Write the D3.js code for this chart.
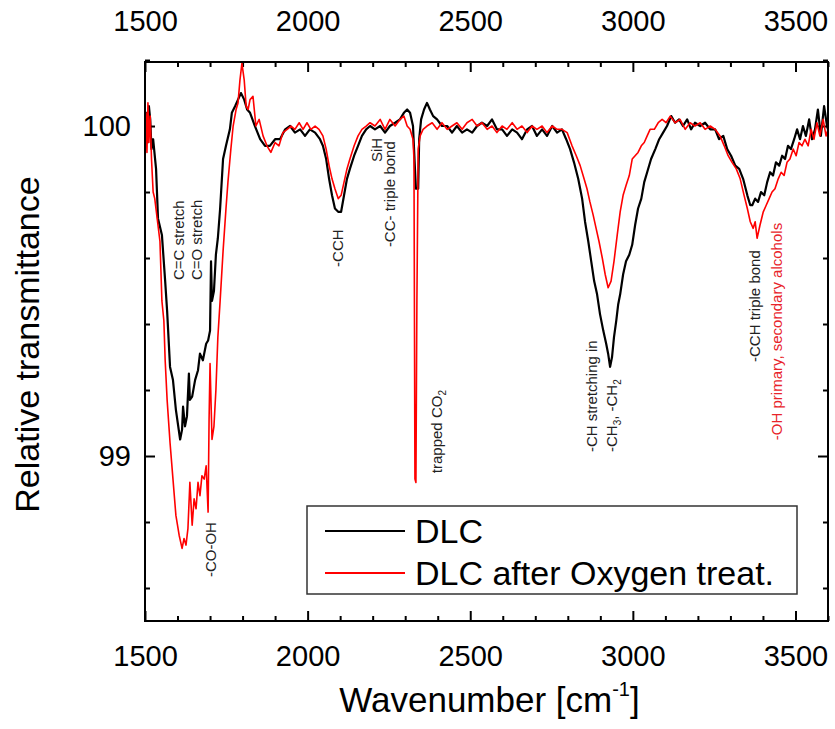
<!DOCTYPE html>
<html>
<head>
<meta charset="utf-8">
<script src="https://cdn.jsdelivr.net/npm/d3@7"></script>
<style>
	body { margin: 0; background: #fff; }
	text { font-family: "Liberation Sans", Arial, sans-serif; }
</style>
</head>
<body>
<svg id="chart" width="835" height="729"></svg>
<script>
"use strict";

// wavenumber [cm-1], relative transmittance
var dlcWn = [1500,1504,1508,1512,1516,1520,1525,1534,1540,1552,1562,1568,1577,1586,1595,1608,1614,1617,1623,1629,1635,1638,1645,1654,1663,1669,1678,1688,1694,1700,1703,1706,1712,1718,1724,1731,1740,1749,1761,1767,1777,1786,1795,1805,1814,1823,1838,1854,1869,1884,1900,1915,1931,1946,1961,1977,1992,2007,2023,2038,2047,2057,2066,2075,2084,2094,2103,2112,2121,2130,2143,2155,2167,2180,2192,2207,2223,2238,2253,2269,2284,2296,2306,2315,2324,2330,2333,2340,2343,2349,2358,2367,2376,2386,2398,2413,2429,2444,2459,2475,2490,2506,2521,2536,2552,2567,2582,2598,2613,2629,2644,2659,2675,2690,2705,2721,2736,2752,2767,2782,2795,2807,2819,2832,2844,2853,2863,2872,2881,2890,2899,2909,2918,2924,2930,2936,2942,2949,2955,2961,2970,2979,2989,2998,3007,3016,3026,3035,3044,3056,3069,3081,3093,3105,3118,3130,3142,3154,3167,3179,3191,3207,3222,3238,3253,3265,3278,3290,3302,3315,3327,3339,3352,3361,3367,3376,3385,3394,3404,3413,3422,3431,3440,3450,3459,3468,3477,3486,3496,3505,3514,3523,3532,3542,3551,3560,3569,3578,3588,3597,3600];
var dlcT = [99.98,100.04,99.95,100.06,100.02,99.93,99.96,99.87,99.72,99.67,99.53,99.44,99.27,99.23,99.14,99.05,99.08,99.15,99.09,99.12,99.25,99.17,99.18,99.23,99.26,99.31,99.29,99.34,99.35,99.38,99.59,99.47,99.50,99.61,99.66,99.75,99.90,99.94,99.99,100.04,100.06,100.08,100.10,100.08,100.05,100.04,100.00,99.96,99.94,99.94,99.96,99.96,99.99,100.00,99.98,99.99,99.97,99.99,99.98,99.96,99.94,99.90,99.84,99.79,99.75,99.74,99.74,99.79,99.84,99.87,99.91,99.94,99.97,99.99,100.00,99.99,100.00,99.98,100.00,100.01,100.02,100.04,100.05,100.04,100.00,99.87,99.81,99.81,99.96,100.02,100.05,100.07,100.05,100.03,100.02,100.00,100.00,99.98,100.00,99.98,99.99,99.98,100.00,100.01,100.00,100.02,99.99,99.99,99.97,99.99,99.98,99.96,99.99,100.00,99.97,99.99,99.97,100.00,99.98,99.99,99.96,99.93,99.89,99.84,99.78,99.71,99.65,99.59,99.53,99.49,99.43,99.38,99.34,99.31,99.27,99.30,99.36,99.41,99.46,99.49,99.55,99.59,99.61,99.64,99.70,99.75,99.78,99.83,99.86,99.90,99.93,99.96,99.98,100.00,100.03,100.01,100.02,100.00,100.02,99.99,100.01,100.00,100.01,99.99,99.99,99.96,99.97,99.93,99.91,99.88,99.87,99.84,99.79,99.76,99.76,99.78,99.77,99.80,99.79,99.83,99.86,99.85,99.89,99.88,99.91,99.90,99.94,99.93,99.96,99.99,99.96,100.00,99.97,100.02,99.96,99.99,100.05,99.97,100.06,100.00,99.99];

var oxyWn = [1500,1503,1506,1509,1512,1516,1520,1525,1530,1546,1552,1558,1562,1568,1577,1586,1595,1605,1614,1620,1626,1632,1638,1645,1651,1657,1663,1669,1675,1682,1688,1691,1694,1697,1700,1706,1712,1718,1724,1731,1740,1749,1755,1764,1771,1780,1786,1792,1798,1805,1811,1817,1823,1832,1841,1851,1863,1875,1887,1900,1912,1924,1937,1949,1961,1974,1986,1998,2010,2023,2035,2047,2057,2066,2075,2084,2094,2103,2112,2121,2130,2143,2155,2167,2180,2192,2207,2223,2238,2253,2269,2284,2296,2306,2315,2324,2327,2330,2333,2336,2340,2346,2355,2367,2383,2398,2413,2429,2444,2459,2475,2490,2506,2521,2536,2552,2567,2582,2598,2613,2629,2644,2659,2675,2690,2705,2721,2736,2752,2767,2782,2798,2813,2826,2838,2850,2859,2868,2878,2887,2896,2906,2915,2924,2933,2942,2952,2961,2970,2979,2989,2998,3007,3016,3026,3035,3044,3053,3066,3078,3090,3102,3115,3130,3145,3161,3176,3191,3207,3222,3238,3253,3268,3281,3293,3305,3318,3330,3342,3352,3361,3370,3376,3382,3391,3401,3410,3419,3428,3437,3447,3456,3465,3474,3483,3493,3502,3511,3520,3529,3539,3548,3557,3566,3575,3585,3594,3600];
var oxyT = [99.97,100.04,99.92,100.07,99.95,100.03,99.90,99.80,99.78,99.65,99.47,99.41,99.29,99.17,99.04,98.93,98.82,98.76,98.72,98.75,98.73,98.78,98.92,98.79,98.87,98.84,98.92,98.88,98.94,98.93,98.97,98.90,98.83,99.11,99.28,99.05,99.09,99.20,99.36,99.47,99.62,99.75,99.83,99.93,100.00,100.05,100.07,100.14,100.19,100.14,100.06,100.05,100.08,100.09,100.00,100.02,99.97,99.94,99.92,99.95,99.94,99.98,99.99,100.00,99.99,100.01,99.99,100.01,99.99,100.00,99.99,99.97,99.93,99.88,99.84,99.81,99.78,99.79,99.83,99.87,99.90,99.94,99.97,99.99,100.00,100.01,100.00,100.02,99.99,100.02,100.00,100.02,100.03,100.00,99.99,99.96,99.90,98.93,98.92,99.47,99.93,99.97,99.99,100.00,100.01,99.99,100.01,99.99,100.00,100.01,99.99,100.01,100.02,100.00,100.01,99.99,100.00,99.98,100.00,99.99,100.01,99.99,100.00,99.98,100.00,99.99,100.00,99.98,100.00,99.99,99.99,99.98,99.94,99.91,99.88,99.84,99.81,99.77,99.73,99.69,99.65,99.60,99.55,99.51,99.53,99.59,99.67,99.74,99.79,99.82,99.85,99.90,99.91,99.92,99.94,99.95,99.97,99.99,99.99,100.01,100.02,100.01,100.03,100.01,100.02,99.99,100.01,100.00,100.01,99.99,100.00,99.99,99.97,99.94,99.91,99.89,99.87,99.84,99.79,99.75,99.71,99.69,99.71,99.66,99.70,99.74,99.76,99.78,99.80,99.81,99.84,99.86,99.85,99.89,99.90,99.93,99.91,99.95,99.94,99.96,99.94,99.99,99.96,100.01,99.97,100.02,99.97,99.99];

var seriesNames = ["DLC", "DLC after Oxygen treat."];
var seriesColors = ["#000000", "#ff0000"];
var xMajor = [1500, 2000, 2500, 3000, 3500];
var yMajor = [99, 100];

// peak labels: wavenumber, transmittance where the text starts
var notes = [
	{ wn: 1605, t: 99.533, text: "C=C stretch", color: "#222" },
	{ wn: 1660, t: 99.533, text: "C=O stretch", color: "#222" },
	{ wn: 1703, t: 98.633, text: "-CO-OH", color: "#222" },
	{ wn: 2094, t: 99.573, text: "-CCH", color: "#222" },
	{ wn: 2213, t: 99.891, text: "SiH", color: "#222" },
	{ wn: 2253, t: 99.633, text: "-CC- triple bond", color: "#222" },
	{ wn: 2398, t: 98.948, text: "trapped CO|2", color: "#222" },
	{ wn: 2875, t: 99.012, text: "-CH stretching in", color: "#222" },
	{ wn: 2936, t: 99.012, text: "-CH|3|, -CH|2", color: "#222" },
	{ wn: 3376, t: 99.285, text: "-CCH triple bond", color: "#222" },
	{ wn: 3443, t: 99.048, text: "-OH primary, secondary alcohols", color: "#e8242a" }
];

var plotL = 145, plotR = 828, plotT = 62, plotB = 621;
var svg = d3.select("#chart");

var x = d3.scaleLinear().domain([1500, 3600]).range([plotL, plotR]);
var y = d3.scaleLinear().domain([98.5, 100.194]).range([plotB, plotT]);

svg.append("defs").append("clipPath").attr("id", "plotclip")
	.append("rect").attr("x", plotL).attr("y", plotT)
	.attr("width", plotR - plotL).attr("height", plotB - plotT);

var xMinor = d3.range(1500, 3601, 100).filter(function(d) { return d % 500 !== 0; });
var yMinor = d3.range(98.6, 100.2, 0.2).filter(function(d) { return Math.abs(d - Math.round(d)) > 0.01; });

function drawAxis(gen, tx, ty, ticks, size, labels, pad) {
	var g = svg.append("g").attr("transform", "translate(" + tx + "," + ty + ")")
		.call(gen.tickValues(ticks).tickSizeInner(size).tickSizeOuter(0).tickPadding(pad)
			.tickFormat(labels ? d3.format("d") : ""));
	g.select(".domain").remove();
	g.selectAll("line").attr("stroke", "#000").attr("stroke-width", 2);
	g.selectAll("text").attr("fill", "#000").style("font-size", "29px");
	return g;
}

drawAxis(d3.axisBottom(x), 0, plotB, xMajor, -10, true, 24);
drawAxis(d3.axisBottom(x), 0, plotB, xMinor, -5, false, 0);
var topAx = drawAxis(d3.axisTop(x), 0, plotT, xMajor, -10, true, 31);
topAx.selectAll("text").attr("dy", "0em");
drawAxis(d3.axisTop(x), 0, plotT, xMinor, -5, false, 0);
drawAxis(d3.axisLeft(y), plotL, 0, yMajor, -10, true, 14);
drawAxis(d3.axisLeft(y), plotL, 0, yMinor, -5, false, 0);
drawAxis(d3.axisRight(y), plotR, 0, yMajor, -10, false, 0);
drawAxis(d3.axisRight(y), plotR, 0, yMinor, -5, false, 0);

var line = d3.line()
	.x(function(d) { return x(d[0]); })
	.y(function(d) { return y(d[1]); });

var plot = svg.append("g").attr("clip-path", "url(#plotclip)");
plot.append("path")
	.datum(d3.zip(dlcWn, dlcT))
	.attr("d", line).attr("fill", "none")
	.attr("stroke", seriesColors[0]).attr("stroke-width", 2.2).attr("stroke-linejoin", "round");
plot.append("path")
	.datum(d3.zip(oxyWn, oxyT))
	.attr("d", line).attr("fill", "none")
	.attr("stroke", seriesColors[1]).attr("stroke-width", 1.6).attr("stroke-linejoin", "round");

svg.append("rect")
	.attr("x", plotL).attr("y", plotT)
	.attr("width", plotR - plotL).attr("height", plotB - plotT)
	.attr("fill", "none").attr("stroke", "#000").attr("stroke-width", 2);

// rotated peak labels, '|' toggles subscript
notes.forEach(function(n) {
	var t = svg.append("text")
		.attr("transform", "translate(" + x(n.wn) + "," + y(n.t) + ") rotate(-90)")
		.attr("dy", "0.35em")
		.attr("fill", n.color)
		.style("font-size", "15px");
	n.text.split("|").forEach(function(part, i) {
		var s = t.append("tspan").text(part);
		if (i % 2 === 1) {
			s.style("font-size", "10px").attr("dy", "4");
		} else if (i > 0) {
			s.attr("dy", "-4");
		}
	});
});

// legend
var lg = svg.append("g");
lg.append("rect").attr("x", 307).attr("y", 506).attr("width", 490).attr("height", 88)
	.attr("fill", "#fff").attr("stroke", "#333").attr("stroke-width", 1.5);
seriesNames.forEach(function(name, i) {
	var ly = 531 + i * 42;
	lg.append("line").attr("x1", 325).attr("x2", 405).attr("y1", ly).attr("y2", ly)
		.attr("stroke", seriesColors[i]).attr("stroke-width", 2);
	lg.append("text").attr("x", 415).attr("y", ly + 12)
		.attr("fill", "#000").style("font-size", "34px").text(name);
});

svg.append("text")
	.attr("transform", "translate(27," + ((plotT + plotB) / 2 + 3) + ") rotate(-90)")
	.attr("text-anchor", "middle").attr("dy", "0.35em")
	.style("font-size", "34px").text("Relative transmittance");

var xl = svg.append("text")
	.attr("x", (plotL + plotR) / 2 + 3).attr("y", 712)
	.attr("text-anchor", "middle").style("font-size", "35px");
xl.append("tspan").text("Wavenumber [cm");
xl.append("tspan").text("-1").style("font-size", "20px").attr("dy", "-16");
xl.append("tspan").text("]").attr("dy", "16");
</script>
</body>
</html>
